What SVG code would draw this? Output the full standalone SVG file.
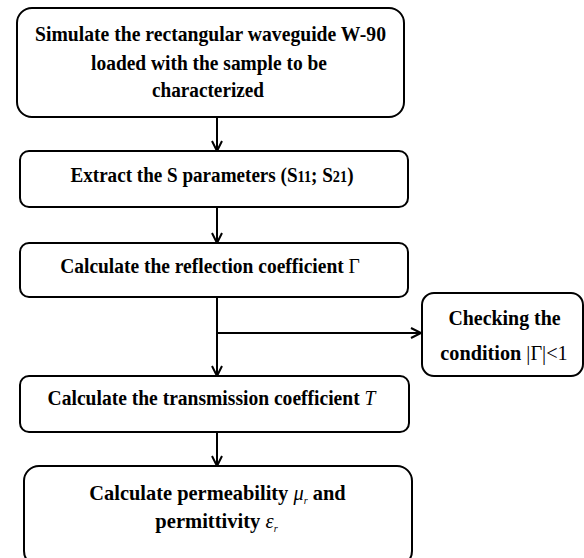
<svg xmlns="http://www.w3.org/2000/svg" width="584" height="558" viewBox="0 0 584 558">
<style>
.box{fill:#fff;stroke:#000;stroke-width:2}
text{font-family:'Liberation Serif','Times New Roman',Tinos,serif;font-weight:bold;font-size:22px;fill:#000;text-anchor:middle}
.m{font-weight:normal}
.i{font-weight:normal;font-style:italic}
.sub{font-weight:normal;font-style:italic;font-size:11px}
.c{stroke:#000;stroke-width:2;fill:none}
</style>
<defs>
<marker id="arr" markerWidth="14" markerHeight="14" refX="11" refY="6" orient="auto" markerUnits="userSpaceOnUse">
<path d="M1,1 L11,6 L1,11" fill="none" stroke="#000" stroke-width="2"/>
</marker>
</defs>
<rect width="584" height="558" fill="#fff"/>
<g id="connectors">
<line class="c" x1="217" y1="117" x2="217" y2="151" marker-end="url(#arr)"/>
<line class="c" x1="217" y1="207" x2="217" y2="243" marker-end="url(#arr)"/>
<line class="c" x1="217" y1="297" x2="217" y2="376" marker-end="url(#arr)"/>
<line class="c" x1="217" y1="333" x2="421" y2="333" marker-end="url(#arr)"/>
<line class="c" x1="217" y1="432" x2="217" y2="466" marker-end="url(#arr)"/>
</g>
<g id="simulate">
<rect class="box" x="17" y="8" width="387" height="109" rx="15"/>
<text transform="translate(210.5,41) scale(0.894,1)">Simulate the rectangular waveguide W-90</text>
<text transform="translate(209,70) scale(0.884,1)">loaded with the sample to be</text>
<text transform="translate(208,97) scale(0.874,1)">characterized</text>
</g>
<g id="extract">
<rect class="box" x="20" y="151" width="388" height="56" rx="9"/>
<text transform="translate(212,182) scale(0.869,1)">Extract the S parameters (S<tspan font-size="16.5">11</tspan>; S<tspan font-size="16.5">21</tspan>)</text>
</g>
<g id="reflection">
<rect class="box" x="20" y="243" width="388" height="54" rx="9"/>
<text transform="translate(210,273) scale(0.886,1)">Calculate the reflection coefficient <tspan class="m">Γ</tspan></text>
</g>
<g id="checking">
<rect class="box" x="422" y="293" width="161" height="83" rx="12"/>
<text transform="translate(504.5,325) scale(0.904,1)">Checking the</text>
<text transform="translate(504,360) scale(0.92,1)">condition <tspan class="m">|Γ|&lt;1</tspan></text>
</g>
<g id="transmission">
<rect class="box" x="20" y="376" width="389" height="56" rx="9"/>
<text transform="translate(211.5,405) scale(0.889,1)">Calculate the transmission coefficient <tspan class="i">T</tspan></text>
</g>
<g id="permeability">
<rect class="box" x="24" y="466" width="388" height="100" rx="15"/>
<text transform="translate(217.5,500) scale(0.928,1)">Calculate permeability <tspan class="i">μ</tspan><tspan class="sub" dy="4">r</tspan><tspan dy="-4"> and</tspan></text>
<text transform="translate(216.5,528) scale(0.935,1)">permittivity <tspan class="i">ε</tspan><tspan class="sub" dy="4">r</tspan></text>
</g>
</svg>
